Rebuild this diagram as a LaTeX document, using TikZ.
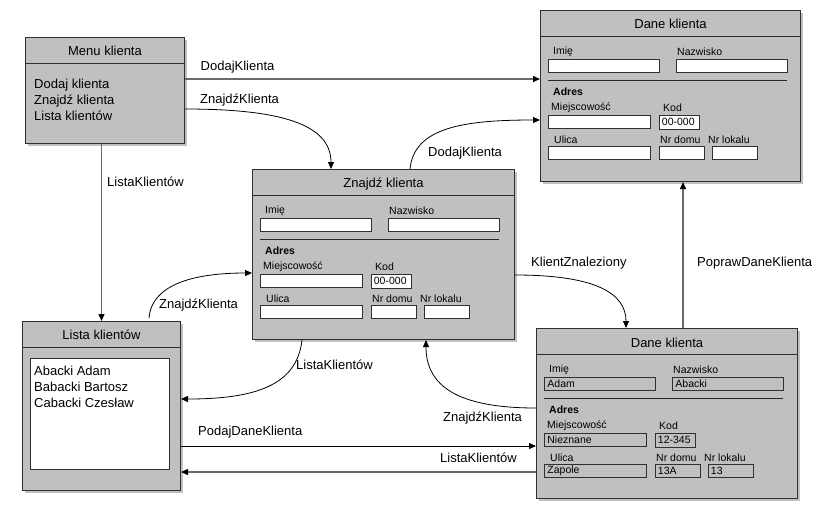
\documentclass[tikz,border=0pt]{standalone}
\usepackage{fontspec}
\setmainfont{Liberation Sans}
\usetikzlibrary{arrows.meta,calc,shadows}
\definecolor{boxgray}{HTML}{C0C0C0}
\definecolor{edge}{HTML}{303030}
\definecolor{linegray}{HTML}{6A6A6A}
\newcommand\bigf{\fontsize{13}{16}\selectfont}
\newcommand\smallf{\fontsize{10.5}{12}\selectfont}
\tikzset{
  box/.style={draw=edge, line width=1pt, fill=boxgray, anchor=north west, inner sep=0pt,
    drop shadow={shadow xshift=2.5pt, shadow yshift=-2.5pt, fill=black!60, opacity=0.4}},
  boxline/.style={draw=edge, line width=1pt},
  title/.style={font=\bigf, inner sep=0pt},
  fld/.style={draw=edge, line width=0.8pt, anchor=north west, inner xsep=3pt, inner ysep=0pt,
    minimum height=13pt, font=\smallf},
  flbl/.style={anchor=west, inner sep=0pt, font=\smallf},
  sepline/.style={draw=black!85, line width=0.8pt},
  lbl/.style={anchor=west, inner sep=0pt, font=\bigf},
  tip/.style={-{Triangle[length=7pt,width=6pt,color=black]}},
  sarrow/.style={tip, draw=linegray, line width=1.4pt},
  tarrow/.style={tip, draw=black, line width=0.8pt},
  carrow/.style={tip, draw=black, line width=0.8pt},
}
\newcommand\drawform[9]{%
  \node[fld,fill=#2,text width=105pt] (#1-imie) at ($(#1.north west)+(8,49)$) {#3};
  \node[fld,fill=#2,text width=105pt] (#1-nazw) at ($(#1.north west)+(136,49)$) {#4};
  \node[fld,fill=#2,text width=96pt] (#1-miej) at ($(#1.north west)+(8,105)$) {#5};
  \node[fld,fill=#2,text width=34pt,minimum height=13.5pt] (#1-kod) at ($(#1.north west)+(118.5,105)$) {#6};
  \node[fld,fill=#2,text width=96pt] (#1-ul) at ($(#1.north west)+(8,136)$) {#7};
  \node[fld,fill=#2,text width=39pt] (#1-dom) at ($(#1.north west)+(118.5,136)$) {#8};
  \node[fld,fill=#2,text width=39pt] (#1-lok) at ($(#1.north west)+(171.5,136)$) {#9};
  \node[flbl] (#1-l1) at ($(#1.north west)+(13,42)$) {Imię};
  \node[flbl] (#1-l2) at ($(#1.north west)+(137,42)$) {Nazwisko};
  \node[flbl,font=\smallf\bfseries] (#1-l3) at ($(#1.north west)+(13,82)$) {Adres};
  \node[flbl] (#1-l4) at ($(#1.north west)+(11,97.5)$) {Miejscowość};
  \node[flbl] (#1-l5) at ($(#1.north west)+(123,97.5)$) {Kod};
  \node[flbl] (#1-l6) at ($(#1.north west)+(14,130)$) {Ulica};
  \node[flbl] (#1-l7) at ($(#1.north west)+(120,130)$) {Nr domu};
  \node[flbl] (#1-l8) at ($(#1.north west)+(168,130)$) {Nr lokalu};
  \draw[sepline] ($(#1.north west)+(8,70)$) -- ($(#1.north west)+(247,70)$);
}
\begin{document}
\begin{tikzpicture}[x=1pt,y=-1pt]
\useasboundingbox[fill=white] (0,0) rectangle (818,515);

% boxes
\node[box, minimum width=159pt, minimum height=106pt] (menu) at (25,37) {};
\node[box, minimum width=260pt, minimum height=171pt] (dtop) at (540,10) {};
\node[box, minimum width=262pt, minimum height=170pt] (znajdz) at (252,169) {};
\node[box, minimum width=158pt, minimum height=169pt] (lista) at (22,321) {};
\node[box, minimum width=261pt, minimum height=170pt] (dbot) at (536,328) {};

% headers
\foreach \b in {menu,dtop,znajdz,lista,dbot}{
  \draw[boxline] ($(\b.north west)+(0,26)$) -- ($(\b.north east)+(0,26)$);
}
\node[title] (menu-t) at ($(menu.north)+(0,13.5)$) {Menu klienta};
\node[title] (dtop-t) at ($(dtop.north)+(0,14)$) {Dane klienta};
\node[title] (znajdz-t) at ($(znajdz.north)+(0,15)$) {Znajdź klienta};
\node[title] (lista-t) at ($(lista.north)+(0,13.5)$) {Lista klientów};
\node[title] (dbot-t) at ($(dbot.north)+(0,14.5)$) {Dane klienta};

% menu contents
\node[anchor=north west, align=left, inner sep=0pt, font=\bigf] (menu-list)
  at ($(menu.north west)+(9,42)$) {Dodaj klienta\\Znajdź klienta\\Lista klientów};

% lista contents
\node[draw=edge, line width=0.8pt, fill=white, anchor=north west, inner sep=0pt,
  minimum width=139pt, minimum height=111pt] (lista-w) at ($(lista.north west)+(8,37)$) {};
\node[anchor=north west, align=left, inner sep=0pt, font=\fontsize{13}{15.7}\selectfont] (lista-list)
  at ($(lista-w.north west)+(4,8)$) {Abacki Adam\\Babacki Bartosz\\Cabacki Czesław};

% forms
\drawform{dtop}{white}{}{}{}{00-000}{}{}{}
\drawform{znajdz}{white}{}{}{}{00-000}{}{}{}
\drawform{dbot}{boxgray}{Adam}{Abacki}{Nieznane}{12-345}{Zapole}{13A}{13}

% connectors
\draw[sarrow] ($(menu.north east)+(0,42)$) -- ($(dtop.north west)+(0,69)$)
  node[lbl, pos=0, xshift=15pt, yshift=12pt] (c1) {DodajKlienta};

\draw[carrow] ($(menu.north east)+(0,72)$) .. controls +(95,0) and +(0,-45) .. ($(znajdz.north west)+(79,0)$);
\node[lbl] (c2) at ($(menu.north east)+(15,63)$) {ZnajdźKlienta};

\draw[carrow] ($(znajdz.north west)+(158,0)$) .. controls +(4,-42) and +(-75,0) .. ($(dtop.north west)+(0,110)$);
\node[lbl] (c3) at ($(znajdz.north west)+(176,-16)$) {DodajKlienta};

\coordinate (p4) at (lista.north |- menu.south);
\draw[sarrow] (p4) -- (lista.north);
\node[lbl] (c4) at ($(menu.south west)+(82,38)$) {ListaKlientów};

\draw[carrow] ($(lista.north west)+(127,-3)$) .. controls +(3,-35) and +(-55,0) .. ($(znajdz.north west)+(0,104)$);
\node[lbl] (c5) at ($(lista.north west)+(137,-16)$) {ZnajdźKlienta};

\draw[carrow] ($(znajdz.south west)+(50,0)$) .. controls +(-5,45) and +(75,0) .. ($(lista.north east)+(0,78)$);
\node[lbl] (c6) at ($(znajdz.south west)+(44,25)$) {ListaKlientów};

\draw[carrow] ($(znajdz.north east)+(0,106)$) .. controls +(80,0) and +(0,-35) .. ($(dbot.north west)+(90,0)$);
\node[lbl] (c7) at ($(znajdz.north east)+(16,94)$) {KlientZnaleziony};

\coordinate (p8) at ($(dbot.north west)+(147,0)$);
\draw[sarrow] (p8) -- (p8 |- dtop.south);
\node[lbl] (c8) at ($(p8)+(14,-65)$) {PoprawDaneKlienta};

\draw[carrow] ($(dbot.north west)+(0,80)$) .. controls +(-80,0) and +(0,45) .. ($(znajdz.south west)+(174,0)$);
\node[lbl] (c9) at ($(dbot.north west)+(-93,90)$) {ZnajdźKlienta};

\coordinate (p10) at ($(lista.north east)+(0,125)$);
\draw[tarrow] (p10) -- (p10 -| dbot.west);
\node[lbl] (c10) at ($(p10)+(17,-14)$) {PodajDaneKlienta};

\coordinate (p11) at ($(dbot.north west)+(0,144)$);
\draw[sarrow] (p11) -- (p11 -| lista.east);
\node[lbl] (c11) at ($(p11)+(-96,-14)$) {ListaKlientów};
\end{tikzpicture}
\end{document}
